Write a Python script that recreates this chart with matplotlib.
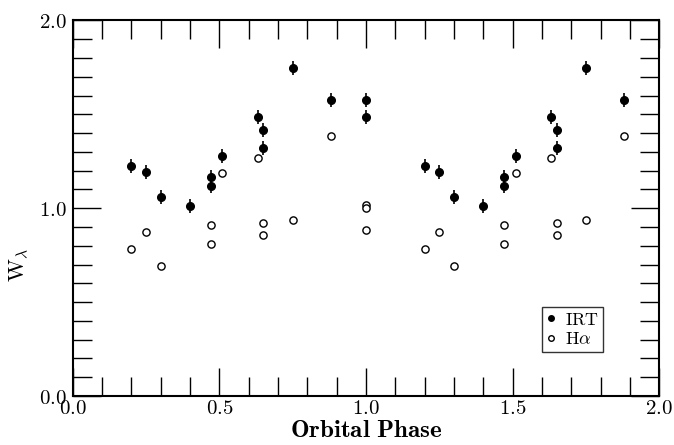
import matplotlib
matplotlib.use('Agg')
import matplotlib.pyplot as plt
from matplotlib.lines import Line2D
from matplotlib.ticker import MultipleLocator, FuncFormatter
import numpy as np

plt.rcParams['mathtext.fontset'] = 'cm'
plt.rcParams['font.family'] = ['DejaVu Serif']

# IRT equivalent widths (first cycle; 0.2-0.88 repeated at +1)
irt_phase = [0.20, 0.25, 0.30, 0.40, 0.47, 0.47, 0.51, 0.63, 0.65, 0.65, 0.75, 0.88, 1.00, 1.00]
irt_w = [1.225, 1.193, 1.062, 1.014, 1.165, 1.120, 1.278, 1.484, 1.417, 1.319, 1.745, 1.575, 1.575, 1.484]
irt_err = 0.037

# H-alpha equivalent widths
ha_phase = [0.20, 0.25, 0.30, 0.47, 0.47, 0.51, 0.63, 0.65, 0.65, 0.75, 0.88, 1.00, 1.00, 1.00]
ha_w = [0.781, 0.872, 0.691, 0.909, 0.808, 1.189, 1.268, 0.920, 0.858, 0.937, 1.387, 1.019, 1.000, 0.886]


def repeat_cycle(phase, vals):
    xs = list(phase) + [p + 1 for p in phase if p < 1.0]
    ys = list(vals) + [v for p, v in zip(phase, vals) if p < 1.0]
    return np.array(xs), np.array(ys)


ix, iy = repeat_cycle(irt_phase, irt_w)
hx, hy = repeat_cycle(ha_phase, ha_w)

fig = plt.figure(figsize=(6.74, 4.45), dpi=100)
ax = fig.add_axes([0.108, 0.110, 0.870, 0.844])

ax.errorbar(ix, iy, yerr=irt_err, fmt='o', color='k', ms=5.5, elinewidth=1.2, capsize=0)
ax.plot(hx, hy, 'o', mfc='white', mec='k', ms=5.2, mew=1.0, linestyle='None')

ax.set_xlim(0, 2)
ax.set_ylim(0, 2)
ax.xaxis.set_major_locator(MultipleLocator(0.5))
ax.xaxis.set_minor_locator(MultipleLocator(0.1))
ax.yaxis.set_major_locator(MultipleLocator(1.0))
ax.yaxis.set_minor_locator(MultipleLocator(0.1))
fmt = FuncFormatter(lambda v, pos: r'$%.1f$' % v)
ax.xaxis.set_major_formatter(fmt)
ax.yaxis.set_major_formatter(fmt)
ax.tick_params(which='both', direction='in', top=True, right=True, width=1.0, labelsize=15)
ax.tick_params(which='major', length=20)
ax.tick_params(axis='x', which='major', pad=2)
ax.tick_params(axis='y', which='major', pad=4)
ax.tick_params(which='minor', length=14)
for s in ax.spines.values():
    s.set_linewidth(1.5)

ax.set_xlabel(r'$\mathbf{Orbital\ Phase}$', fontsize=18, labelpad=1)
ax.set_ylabel(r'$\mathrm{W}_\lambda$', fontsize=16)
ax.yaxis.set_label_coords(-0.072, 0.35)

handles = [Line2D([], [], marker='o', color='k', ms=4, linestyle='None'),
           Line2D([], [], marker='o', mfc='white', mec='k', ms=4, linestyle='None')]
leg = ax.legend(handles, [r'$\mathrm{IRT}$', r'$\mathrm{H}\alpha$'], loc='lower right',
                bbox_to_anchor=(0.904, 0.117), fontsize=13, frameon=True, fancybox=False,
                handlelength=0.6, handletextpad=0.5, borderpad=0.2, labelspacing=0.1,
                borderaxespad=0)
leg.get_frame().set_edgecolor('k')
leg.get_frame().set_linewidth(1.0)

fig.savefig('out.png', dpi=100)
plt.close(fig)
